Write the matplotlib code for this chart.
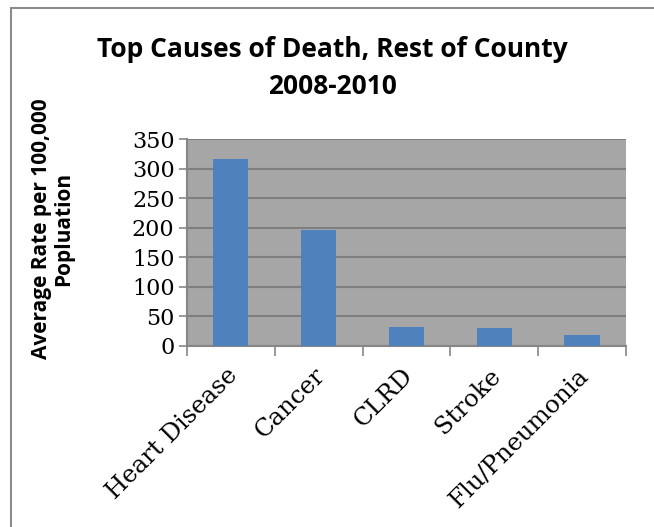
import matplotlib
matplotlib.use("Agg")
import matplotlib.pyplot as plt
import matplotlib.transforms as mtransforms
from matplotlib.patches import Rectangle

categories = ["Heart Disease", "Cancer", "CLRD", "Stroke", "Flu/Pneumonia"]
values = [316, 196, 32, 30, 19]
yticks = [0, 50, 100, 150, 200, 250, 300, 350]

fig = plt.figure(figsize=(6.54, 5.27), dpi=100)
ax = fig.add_axes([0.286, 0.3435, 0.671, 0.3925])

fig.add_artist(Rectangle((11/654, -0.1), 1.2, 1 - 8/527 + 0.1, transform=fig.transFigure,
                         fill=False, edgecolor="#8c8c8c", linewidth=1.5))

x = list(range(len(categories)))
ax.bar(x, values, width=0.4, color="#4f81bd", zorder=3)
ax.set_facecolor("#a6a6a6")
ax.set_xlim(-0.5, len(categories) - 0.5)
ax.set_ylim(0, 350)
ax.set_yticks(yticks)
ax.set_yticklabels([str(v) for v in yticks], family="DejaVu Serif", fontsize=16)
ax.yaxis.grid(True, color="#7f7f7f", linewidth=1.5, zorder=0)
ax.set_axisbelow(True)
for s in ["top", "right"]:
    ax.spines[s].set_visible(False)
for s in ["left", "bottom"]:
    ax.spines[s].set_color("#868686")
    ax.spines[s].set_linewidth(1.5)
ax.tick_params(axis="y", length=6, color="#868686", width=1.2, pad=3)
ax.set_xticks([i - 0.5 for i in range(len(categories) + 1)], minor=False)
ax.set_xticklabels([""] * (len(categories) + 1))
ax.tick_params(axis="x", which="major", length=7, color="#868686", width=1.2)
ax.set_xticks(x, minor=True)
ax.set_xticklabels(categories, minor=True, rotation=45, ha="right", va="top",
                   rotation_mode="anchor", family="DejaVu Serif", fontsize=17.5)
ax.tick_params(axis="x", which="minor", length=0, pad=13)
shift = mtransforms.ScaledTranslation(-0.05, 0, fig.dpi_scale_trans)
for lab in ax.get_xticklabels(minor=True):
    lab.set_transform(lab.get_transform() + shift)

fig.text(0.508, 0.871, "Top Causes of Death, Rest of County\n2008-2010", ha="center", va="center",
         family="Open Sans", fontweight="bold", fontsize=19, linespacing=1.5)
fig.text(0.08, 0.566, "Average Rate per 100,000\nPopluation", ha="center", va="center",
         rotation=90, family="Open Sans", fontweight="bold", fontsize=15, linespacing=1.05)

fig.savefig("out.png", dpi=100)
